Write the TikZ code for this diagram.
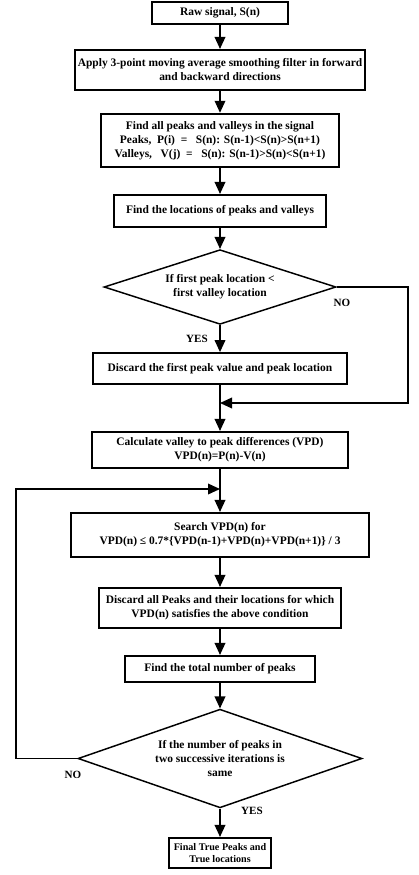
\documentclass[tikz,border=0pt]{standalone}
\usepackage{fontspec}
\setmainfont{Liberation Serif}
\usetikzlibrary{arrows.meta,shapes.geometric,positioning}

\tikzset{
  procbox/.style={draw, line width=1.6pt, align=center, inner sep=1.5pt,
    font=\fontsize{8.6}{10.5}\selectfont\bfseries},
  decision/.style={draw, diamond, line width=1.1pt, align=center, inner sep=0pt,
    font=\fontsize{8.6}{10.5}\selectfont\bfseries},
  answer/.style={font=\fontsize{8.3}{10}\selectfont\bfseries},
  flow/.style={line width=1.1pt, -{Triangle[length=9pt,width=8pt]}}
}

\begin{document}
\begin{tikzpicture}[x=0.75pt,y=-0.75pt]
\fill[white] (0,0) rectangle (418,875);

% process boxes, top to bottom
\node [procbox, minimum width=102pt, minimum height=16.5pt] (raw) at (220,13) {Raw signal, S(n)};
\node [procbox, minimum width=217.5pt, minimum height=30pt] (smooth) at (220,70)
  {Apply 3-point moving average smoothing filter in forward\\and backward directions};
\node [procbox, minimum width=178pt, minimum height=40pt] (peaks) at (220,140.5)
  {Find all peaks and valleys in the signal\\
   Peaks,~ P(i) ~=~~ S(n): S(n-1)<S(n)>S(n+1)\\
   Valleys,~~ V(j) ~=~~ S(n): S(n-1)>S(n)<S(n+1)};
\node [procbox, minimum width=159pt, minimum height=24pt] (locs) at (220,211)
  {Find the locations of peaks and valleys};
\node [decision, aspect=3.1, minimum width=174pt, minimum height=56pt] (first) at (220,287)
  {If first peak location <\\first valley location};
\node [procbox, minimum width=191pt, minimum height=23pt] (drop) at (220,368.5)
  {Discard the first peak value and peak location};
\node [procbox, minimum width=192pt, minimum height=27pt] (vpd) at (220,450)
  {Calculate valley to peak differences (VPD)\\VPD(n)=P(n)-V(n)};
\node [procbox, minimum width=223.5pt, minimum height=33pt] (search) at (220,535)
  {Search VPD(n) for\\VPD(n) ≤ 0.7*\{VPD(n-1)+VPD(n)+VPD(n+1)\} / 3};
\node [procbox, minimum width=181pt, minimum height=30pt] (dropall) at (220,608)
  {Discard all Peaks and their locations for which\\VPD(n) satisfies the above condition};
\node [procbox, minimum width=143pt, minimum height=19.5pt] (count) at (220,669)
  {Find the total number of peaks};
\node [decision, aspect=2.87, minimum width=213pt, minimum height=74pt] (same) at (220,758.5)
  {If the number of peaks in\\two successive iterations is\\same};
\node [procbox, minimum width=77pt, minimum height=22.5pt, font=\fontsize{7.6}{9.5}\selectfont\bfseries]
  (final) at (220,853) {Final True Peaks and\\True locations};

% answers
\node [answer] (no1) at (342,303) {NO};
\node [answer] (yes1) at (197,339) {YES};
\node [answer] (no2) at (73,775) {NO};
\node [answer] (yes2) at (252,811) {YES};

% main flow
\foreach \a/\b in {raw/smooth,smooth/peaks,peaks/locs,locs/first,first/drop,
  drop/vpd,vpd/search,search/dropall,dropall/count,count/same,same/final}
  \draw [flow] (\a) -- (\b);

% loops
\coordinate (rturn) at (408,403);
\coordinate (merge) at (220,403);
\draw [flow] (first.east) -| (rturn) -- (merge);
\coordinate (lturn) at (16,489);
\coordinate (back) at (220,489);
\draw [flow] (same.west) -| (lturn) -- (back);

\end{tikzpicture}
\end{document}
